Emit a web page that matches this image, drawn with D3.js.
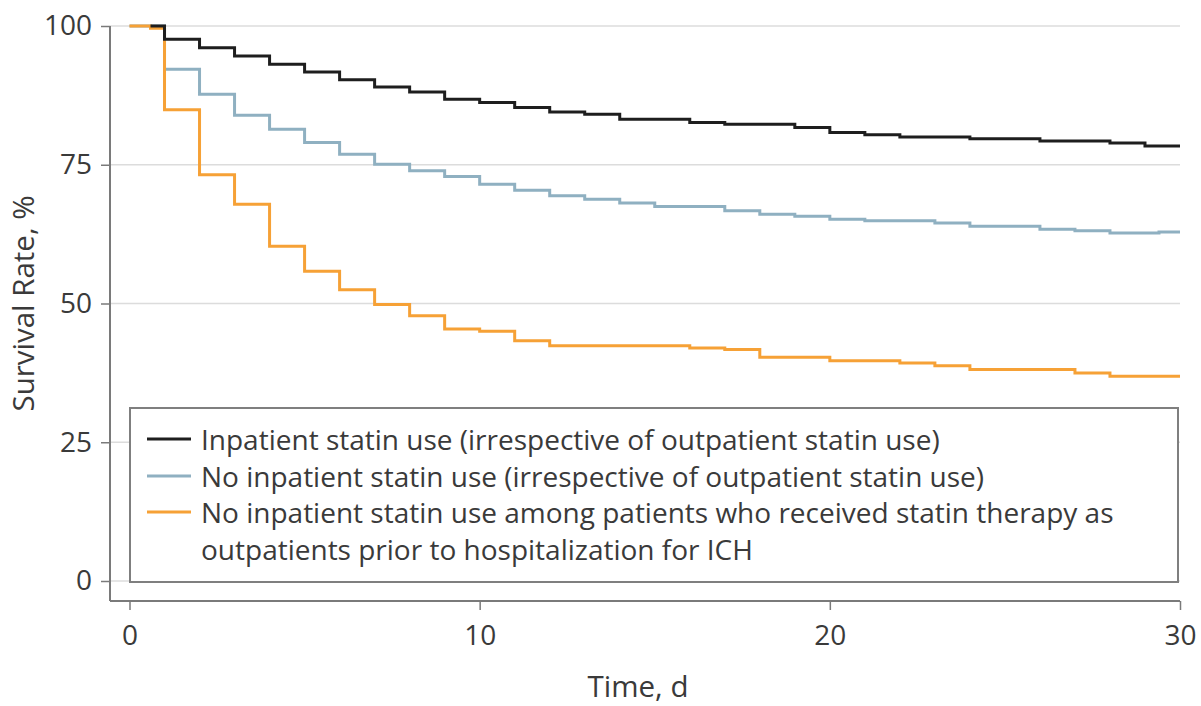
<!DOCTYPE html>
<html>
<head>
<meta charset="utf-8">
<script src="https://cdn.jsdelivr.net/npm/d3@7"></script>
<style>
  html, body { margin: 0; padding: 0; background: #fff; }
  svg text { font-family: "Open Sans", "DejaVu Sans", sans-serif; fill: #3a3a3a; }
</style>
</head>
<body>
<svg id="chart" width="1201" height="706"></svg>
<script>
// Kaplan-Meier survival, 30 days after hospitalization
const xTicks = [0, 10, 20, 30];
const yTicks = [0, 25, 50, 75, 100];

const inpatientDays = [0.6, 1, 2, 3, 4, 5, 6, 7, 8, 9, 10, 11, 12, 13, 14, 16, 17, 19, 20, 21, 22, 24, 26, 28, 29, 30];
const inpatientSurv = [100, 97.6, 96.1, 94.6, 93.1, 91.7, 90.3, 89.0, 88.1, 86.8, 86.2, 85.3, 84.5, 84.1, 83.2, 82.6, 82.3, 81.7, 80.8, 80.4, 80.0, 79.7, 79.3, 78.9, 78.4, 78.4];

const noInpatientDays = [0, 1, 2, 3, 4, 5, 6, 7, 8, 9, 10, 11, 12, 13, 14, 15, 17, 18, 19, 20, 21, 23, 24, 26, 27, 28, 29.4, 30];
const noInpatientSurv = [100, 92.2, 87.7, 83.9, 81.4, 79.0, 76.9, 75.1, 73.9, 72.9, 71.5, 70.4, 69.4, 68.8, 68.1, 67.5, 66.7, 66.1, 65.7, 65.2, 64.9, 64.5, 63.9, 63.4, 63.1, 62.7, 62.9, 62.9];

const priorOutpatientDays = [0, 0.6, 1, 2, 3, 4, 5, 6, 7, 8, 9, 10, 11, 12, 16, 17, 18, 20, 22, 23, 24, 27, 28, 30];
const priorOutpatientSurv = [100, 99.6, 84.9, 73.2, 67.9, 60.3, 55.8, 52.5, 49.8, 47.8, 45.4, 45.0, 43.3, 42.4, 42.0, 41.7, 40.3, 39.7, 39.3, 38.8, 38.1, 37.5, 36.9, 36.9];

const seriesNames = [
  ["Inpatient statin use (irrespective of outpatient statin use)"],
  ["No inpatient statin use (irrespective of outpatient statin use)"],
  ["No inpatient statin use among patients who received statin therapy as",
   "outpatients prior to hospitalization for ICH"]
];
const seriesColors = ["#1e1e1e", "#8fb0c1", "#f6a136"];

const series = [
  { days: inpatientDays, surv: inpatientSurv },
  { days: noInpatientDays, surv: noInpatientSurv },
  { days: priorOutpatientDays, surv: priorOutpatientSurv }
].map((s, i) => ({
  name: seriesNames[i],
  color: seriesColors[i],
  points: s.days.map((d, j) => ({ t: d, s: s.surv[j] }))
}));

const svg = d3.select("#chart");
const x = d3.scaleLinear().domain([0, 30]).range([129.5, 1180]);
const y = d3.scaleLinear().domain([0, 100]).range([581, 26]);
const axisX0 = 110, axisY0 = 601;

// gridlines
svg.append("g")
  .selectAll("line")
  .data(yTicks)
  .join("line")
  .attr("x1", axisX0).attr("x2", x(30))
  .attr("y1", d => y(d)).attr("y2", d => y(d))
  .attr("stroke", "#dcdcdc").attr("stroke-width", 1.5);

// y axis
const yAxis = svg.append("g")
  .attr("transform", `translate(${axisX0},0)`)
  .call(d3.axisLeft(y).tickValues(yTicks).tickSize(9).tickPadding(9));
yAxis.select(".domain").attr("d", `M0,${y(100)}V${axisY0}`);

// x axis
const xAxis = svg.append("g")
  .attr("transform", `translate(0,${axisY0})`)
  .call(d3.axisBottom(x).tickValues(xTicks).tickSize(9).tickPadding(15));
xAxis.select(".domain").attr("d", `M${axisX0},0H${x(30)}`);

[yAxis, xAxis].forEach(g => {
  g.select(".domain").attr("stroke", "#7a7a7a").attr("stroke-width", 2);
  g.selectAll(".tick line").attr("stroke", "#7a7a7a").attr("stroke-width", 1.5);
  g.selectAll(".tick text")
    .attr("font-size", 28)
    .attr("font-family", "'Open Sans', 'DejaVu Sans', sans-serif")
    .attr("fill", "#3a3a3a");
});

// survival curves
const line = d3.line()
  .x(d => x(d.t))
  .y(d => y(d.s))
  .curve(d3.curveStepAfter);

const drawOrder = [1, 2, 0];
svg.append("g")
  .selectAll("path")
  .data(drawOrder.map(i => series[i]))
  .join("path")
  .attr("d", d => line(d.points))
  .attr("fill", "none")
  .attr("stroke", d => d.color)
  .attr("stroke-width", 3);

// legend
const legend = svg.append("g");
legend.append("rect")
  .attr("x", 130).attr("y", 408)
  .attr("width", 1048).attr("height", 174)
  .attr("fill", "#fff")
  .attr("stroke", "#7f7f7f").attr("stroke-width", 2);

const rowY = [439, 476, 512];
series.forEach((s, i) => {
  legend.append("line")
    .attr("x1", 147).attr("x2", 191)
    .attr("y1", rowY[i]).attr("y2", rowY[i])
    .attr("stroke", s.color).attr("stroke-width", 3);
  s.name.forEach((txt, k) => {
    legend.append("text")
      .attr("x", 201)
      .attr("y", rowY[i] + 11 + k * 37)
      .attr("font-size", 28)
      .text(txt);
  });
});

// axis titles
svg.append("text")
  .attr("transform", `translate(34,${y(50)}) rotate(-90)`)
  .attr("text-anchor", "middle")
  .attr("font-size", 29.5)
  .text("Survival Rate, %");

svg.append("text")
  .attr("x", 638).attr("y", 697)
  .attr("text-anchor", "middle")
  .attr("font-size", 29.5)
  .text("Time, d");
</script>
</body>
</html>
